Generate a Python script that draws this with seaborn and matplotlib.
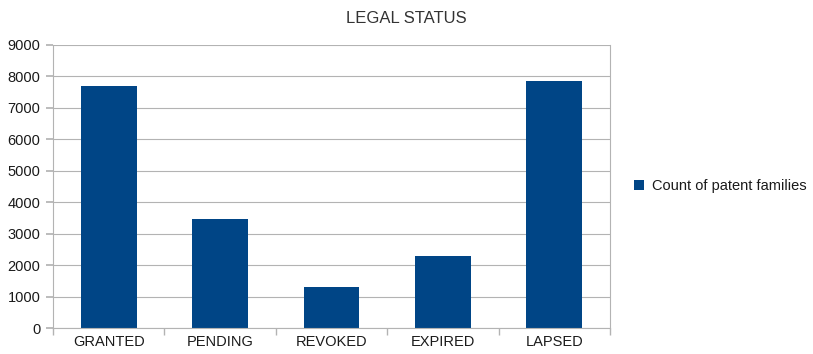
import matplotlib
matplotlib.use("Agg")
import matplotlib.pyplot as plt
import seaborn as sns
import pandas as pd
from matplotlib.ticker import FixedLocator

categories = ["GRANTED", "PENDING", "REVOKED", "EXPIRED", "LAPSED"]
counts = [7680, 3460, 1310, 2290, 7860]
series_name = "Count of patent families"
title = "LEGAL STATUS"
yticks = [0, 1000, 2000, 3000, 4000, 5000, 6000, 7000, 8000, 9000]

sns.set_theme(style="white")
plt.rcParams['font.family'] = ['Liberation Sans', 'DejaVu Sans']

df = pd.DataFrame({"status": categories, "count": counts})

fig = plt.figure(figsize=(8.13, 3.54), dpi=100)
ax = fig.add_axes([0.0652, 0.0734, 0.685, 0.800])

sns.barplot(data=df, x="status", y="count", color="#004586", saturation=1,
            width=0.5, label=series_name, linewidth=0, ax=ax)

ax.set_ylim(0, 9000)
ax.set_xlim(-0.5, len(categories) - 0.5)
ax.set_yticks(yticks)
ax.set_yticklabels([str(v) for v in yticks])
ax.yaxis.grid(True, color="#b3b3b3", linewidth=0.8)
ax.set_axisbelow(True)
ax.set_xlabel("")
ax.set_ylabel("")

ax.spines["top"].set_visible(False)
for s in ["left", "right", "bottom"]:
    ax.spines[s].set_color("#b3b3b3")
    ax.spines[s].set_linewidth(0.8)

ax.tick_params(axis="y", length=5, color="#b3b3b3", labelsize=10.5, labelcolor="#1a1a1a", pad=4, direction="out", left=True)
ax.tick_params(axis="x", which="major", length=0, labelsize=10.5, labelcolor="#1a1a1a", pad=5)
ax.xaxis.set_minor_locator(FixedLocator([i + 0.5 for i in range(-1, len(categories))]))
ax.tick_params(axis="x", which="minor", length=5, color="#b3b3b3", direction="out", bottom=True)

fig.text(0.5, 0.948, title, ha="center", va="center", fontsize=12, color="#333333")

leg = ax.legend(loc="center left", bbox_to_anchor=(1.02, 0.5), frameon=False,
                fontsize=10.5, handlelength=0.7, handleheight=0.7, handletextpad=0.5)
for t in leg.get_texts():
    t.set_color("#1a1a1a")

fig.savefig("out.png", dpi=100, facecolor="white")
